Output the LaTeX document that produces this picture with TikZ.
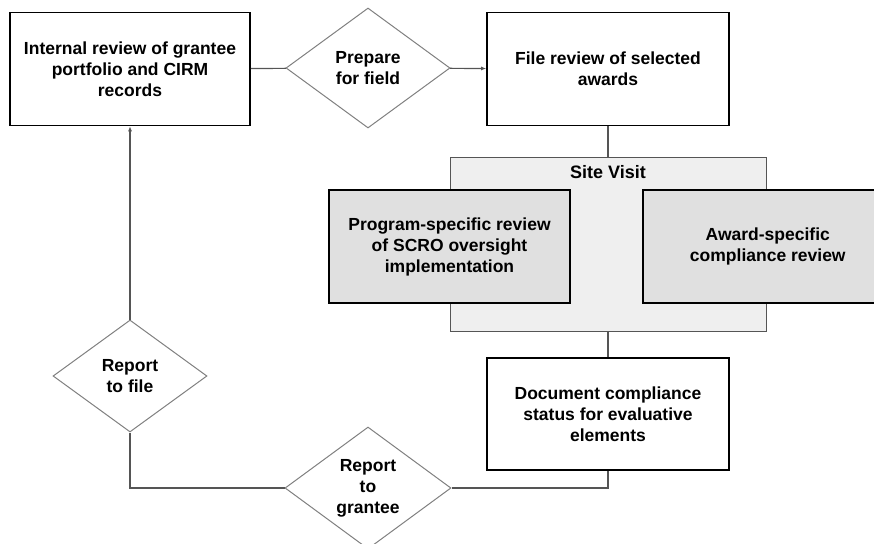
\documentclass[tikz,border=0pt]{standalone}
\usepackage{fontspec}
\setmainfont{Liberation Sans}
\usepackage{xcolor}
\usetikzlibrary{positioning, arrows.meta, shapes.geometric}

\definecolor{visitgray}{HTML}{EFEFEF}
\definecolor{boxgray}{HTML}{E0E0E0}
\definecolor{linegray}{HTML}{555555}
\definecolor{diagray}{HTML}{808080}

\begin{document}
\begin{tikzpicture}[x=1pt, y=-1pt,
  step box/.style={rectangle, draw=black, line width=1.6pt, fill=white, align=center, font=\bfseries\fontsize{17.5}{21}\selectfont, inner sep=2pt},
  gray box/.style={step box, fill=boxgray},
  choice/.style={diamond, draw=diagray, line width=1pt, fill=white, align=center, inner sep=0pt, font=\bfseries\fontsize{17.5}{21}\selectfont},
  conn/.style={draw=linegray, line width=1.2pt}
]
  \useasboundingbox (0,0) rectangle (874,543);

  % top row
  \node[step box, minimum width=240pt, minimum height=113pt] (internal) at (130,69) {Internal review of grantee\\portfolio and CIRM\\records};
  \node[choice, minimum width=164pt, minimum height=120pt] (prepare) at (368,68) {Prepare\\for field};
  \node[step box, minimum width=242pt, minimum height=113pt] (filerev) at (608,69) {File review of selected\\awards};

  % site visit
  \node[rectangle, draw=linegray, line width=1pt, fill=visitgray, minimum width=316pt, minimum height=174pt] (site) at (608,244) {};
  \node[font=\bfseries\fontsize{18}{21}\selectfont, below=5pt of site.north] (sitetitle) {Site Visit};
  \node[gray box, minimum width=241pt, minimum height=113pt] (program) at (449.5,246.5) {Program-specific review\\of SCRO oversight\\implementation};
  \node[gray box, minimum width=250pt, minimum height=113pt, anchor=west] (award) at (642,246.5) {Award-specific\\compliance review};

  % bottom
  \node[step box, minimum width=242pt, minimum height=112pt] (document) at (608,414) {Document compliance\\status for evaluative\\elements};
  \node[choice, minimum width=154pt, minimum height=112pt] (tofile) at (130,376) {Report\\to file};
  \node[choice, minimum width=166pt, minimum height=122pt] (tograntee) at (368,488) {Report\\to\\grantee};

  \draw[conn] (internal) -- (prepare);
  \draw[conn, -{Latex[length=5pt, width=4pt]}] (prepare) -- (filerev);
  \draw[conn] (filerev) -- (site);
  \draw[conn] (site) -- (document);
  \draw[conn] (document.south) |- (tograntee.east);
  \draw[conn] (tograntee.west) -| (tofile.south);
  \draw[conn, -{Latex[length=5pt, width=4pt]}] (tofile.north) -- (internal.south);
\end{tikzpicture}
\end{document}
